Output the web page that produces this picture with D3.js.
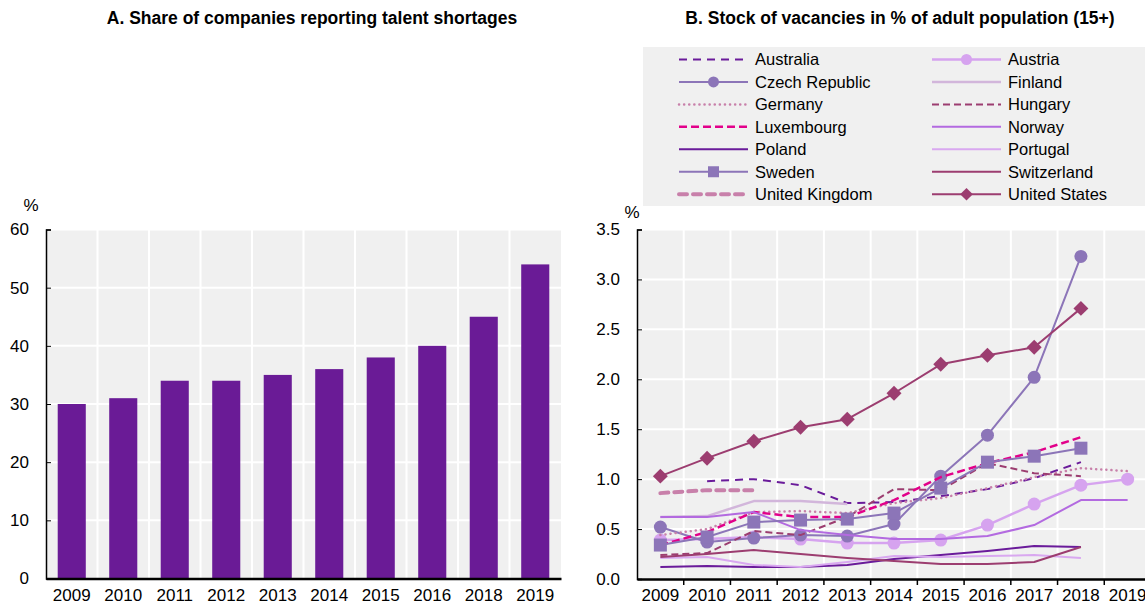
<!DOCTYPE html>
<html>
<head>
<meta charset="utf-8"/>
<title>Talent shortages and vacancies</title>
<script src="https://cdnjs.cloudflare.com/ajax/libs/d3/7.8.5/d3.min.js"></script>
<style>
  body { margin: 0; background: #fff; }
  svg text { font-family: "Liberation Sans", Arial, sans-serif; fill: #000; }
  .title { font-weight: bold; font-size: 17.5px; }
  .tick-label { font-size: 17px; }
  .legend-label { font-size: 16.5px; }
</style>
</head>
<body>
<svg width="1145" height="607"></svg>
<script>
// ---- data, panel A
var barYears = ["2009", "2010", "2011", "2012", "2013", "2014", "2015", "2016", "2018", "2019"];
var barValues = [30, 31, 34, 34, 35, 36, 38, 40, 45, 54];
var barTicks = [0, 10, 20, 30, 40, 50, 60];

// ---- data, panel B (null = no data)
var lineYears = ["2009", "2010", "2011", "2012", "2013", "2014", "2015", "2016", "2017", "2018", "2019"];
var vacTicks = [0, 0.5, 1, 1.5, 2, 2.5, 3, 3.5];

var australia   = [null, 0.98, 1.00, 0.94, 0.76, 0.77, 0.83, 0.90, 1.01, 1.17, null];
var austria     = [0.39, 0.40, 0.42, 0.40, 0.36, 0.36, 0.39, 0.54, 0.75, 0.94, 1.00];
var czech       = [0.52, 0.37, 0.41, 0.44, 0.43, 0.55, 1.03, 1.44, 2.02, 3.23, null];
var finland     = [0.62, 0.63, 0.78, 0.78, 0.75, null, null, null, null, null, null];
var germany     = [0.44, 0.50, 0.67, 0.68, 0.66, 0.76, 0.81, 0.91, 1.02, 1.11, 1.08];
var hungary     = [0.24, 0.26, 0.48, 0.44, 0.62, 0.90, 0.89, 1.16, 1.06, 1.03, null];
var luxembourg  = [0.34, 0.47, 0.67, 0.62, 0.62, 0.79, 1.02, 1.16, 1.27, 1.42, null];
var norway      = [0.62, 0.62, 0.67, 0.49, 0.44, 0.40, 0.40, 0.43, 0.54, 0.79, 0.79];
var poland      = [0.12, 0.13, 0.12, 0.12, 0.14, 0.20, 0.24, 0.28, 0.33, 0.32, null];
var portugal    = [0.21, 0.22, 0.14, 0.12, 0.17, 0.23, 0.22, 0.23, 0.24, 0.21, null];
var sweden      = [0.34, 0.42, 0.57, 0.59, 0.60, 0.66, 0.91, 1.17, 1.23, 1.31, null];
var switzerland = [0.22, 0.25, 0.29, 0.25, 0.21, 0.18, 0.15, 0.15, 0.17, 0.32, null];
var uk          = [0.86, 0.89, 0.89, null, null, null, null, null, null, null, null];
var us          = [1.03, 1.21, 1.38, 1.52, 1.60, 1.86, 2.15, 2.24, 2.32, 2.71, null];

var countryNames = ["Australia", "Austria", "Czech Republic", "Finland", "Germany", "Hungary",
  "Luxembourg", "Norway", "Poland", "Portugal", "Sweden", "Switzerland", "United Kingdom", "United States"];
var countryValues = [australia, austria, czech, finland, germany, hungary,
  luxembourg, norway, poland, portugal, sweden, switzerland, uk, us];

// line styles per country
var styles = {
  "Australia":      { color: "#6a1b9a", width: 2,   dash: "8,6" },
  "Austria":        { color: "#d6a3ef", width: 2.5, marker: "circle" },
  "Czech Republic": { color: "#8c75b8", width: 2,   marker: "circle" },
  "Finland":        { color: "#d2b6db", width: 2.5 },
  "Germany":        { color: "#c880aa", width: 2.5, dash: "0.1,5", cap: "round" },
  "Hungary":        { color: "#9c3d70", width: 2,   dash: "7,4" },
  "Luxembourg":     { color: "#e2008a", width: 2.5, dash: "8,4" },
  "Norway":         { color: "#b36ae0", width: 2 },
  "Poland":         { color: "#6a1b9a", width: 2 },
  "Portugal":       { color: "#d9a8f0", width: 2 },
  "Sweden":         { color: "#8c75b8", width: 2,   marker: "square" },
  "Switzerland":    { color: "#9c3d70", width: 2 },
  "United Kingdom": { color: "#c880aa", width: 4,   dash: "8,6", cap: "round" },
  "United States":  { color: "#9c3d70", width: 2,   marker: "diamond" }
};

var svg = d3.select("svg");
var bg = "#f0f0f0";

// ================= Panel A =================
var xA = d3.scaleBand().domain(barYears).range([46, 561]);
var yA = d3.scaleLinear().domain([0, 60]).range([578.5, 229.5]);

var gA = svg.append("g");
gA.append("rect").attr("x", 46).attr("y", yA(60)).attr("width", 561 - 46).attr("height", yA(0) - yA(60)).attr("fill", bg);

gA.selectAll(".hgrid").data(barTicks.slice(1)).enter().append("line")
  .attr("x1", 46).attr("x2", 561).attr("y1", d => yA(d)).attr("y2", d => yA(d))
  .attr("stroke", "#fff").attr("stroke-width", 2);
gA.selectAll(".vgrid").data(barYears.slice(1)).enter().append("line")
  .attr("x1", d => xA(d)).attr("x2", d => xA(d)).attr("y1", yA(60)).attr("y2", yA(0))
  .attr("stroke", "#fff").attr("stroke-width", 2);

var barW = xA.bandwidth() * 0.545;
gA.selectAll(".bar").data(barYears).enter().append("rect")
  .attr("x", (d) => xA(d) + (xA.bandwidth() - barW) / 2)
  .attr("y", (d, i) => yA(barValues[i]))
  .attr("width", barW)
  .attr("height", (d, i) => yA(0) - yA(barValues[i]))
  .attr("fill", "#6a1b96");

var axA = gA.append("g").attr("transform", "translate(46,0)")
  .call(d3.axisLeft(yA).tickValues(barTicks).tickSize(-5).tickPadding(17));
axA.select(".domain").attr("stroke-width", 1.5);
axA.selectAll("text").attr("class", "tick-label");

var bxA = gA.append("g").attr("transform", "translate(0," + yA(0) + ")")
  .call(d3.axisBottom(xA).tickSize(0).tickPadding(10));
bxA.select(".domain").attr("stroke-width", 2.5);
bxA.selectAll("text").attr("class", "tick-label");

gA.append("text").attr("class", "tick-label").attr("x", 31).attr("y", 211).attr("text-anchor", "middle").text("%");
svg.append("text").attr("class", "title").attr("x", 312).attr("y", 24).attr("text-anchor", "middle")
  .text("A. Share of companies reporting talent shortages");

// ================= Panel B =================
var xB = d3.scaleBand().domain(lineYears).range([637, 1151]);
var yB = d3.scaleLinear().domain([0, 3.5]).range([579, 229.5]);
var right = 1145;

var gB = svg.append("g");
gB.append("rect").attr("x", 637).attr("y", yB(3.5)).attr("width", right - 637).attr("height", yB(0) - yB(3.5)).attr("fill", bg);

gB.selectAll(".hgrid").data(vacTicks.slice(1)).enter().append("line")
  .attr("x1", 637).attr("x2", right).attr("y1", d => yB(d)).attr("y2", d => yB(d))
  .attr("stroke", "#fff").attr("stroke-width", 2);
gB.selectAll(".vgrid").data(lineYears.slice(1)).enter().append("line")
  .attr("x1", d => xB(d)).attr("x2", d => xB(d)).attr("y1", yB(3.5)).attr("y2", yB(0))
  .attr("stroke", "#fff").attr("stroke-width", 2);

var axB = gB.append("g").attr("transform", "translate(637,0)")
  .call(d3.axisLeft(yB).tickValues(vacTicks).tickFormat(d3.format(".1f")).tickSize(-5).tickPadding(17));
axB.select(".domain").attr("stroke-width", 1.5);
axB.selectAll("text").attr("class", "tick-label");

var bxB = gB.append("g").attr("transform", "translate(0," + yB(0) + ")")
  .call(d3.axisBottom(xB).tickSize(0).tickPadding(10));
bxB.select(".domain").attr("stroke-width", 2.5);
bxB.selectAll("text").attr("class", "tick-label");
// small ticks at the band edges
bxB.selectAll(".edge").data(lineYears.slice(1)).enter().append("line")
  .attr("x1", d => xB(d)).attr("x2", d => xB(d)).attr("y1", 0).attr("y2", 6)
  .attr("stroke", "#000").attr("stroke-width", 1.5);

gB.append("text").attr("class", "tick-label").attr("x", 632).attr("y", 218).attr("text-anchor", "middle").text("%");
svg.append("text").attr("class", "title").attr("x", 900).attr("y", 24).attr("text-anchor", "middle")
  .text("B. Stock of vacancies in % of adult population (15+)");

function cx(i) { return xB(lineYears[i]) + xB.bandwidth() / 2; }

var line = d3.line()
  .defined(d => d != null)
  .x((d, i) => cx(i))
  .y(d => yB(d));

function drawMarker(g, type, x, y, color, s) {
  if (type === "circle") {
    g.append("circle").attr("cx", x).attr("cy", y).attr("r", s).attr("fill", color);
  } else if (type === "square") {
    g.append("rect").attr("x", x - s).attr("y", y - s).attr("width", 2 * s).attr("height", 2 * s).attr("fill", color);
  } else if (type === "diamond") {
    var r = s * 1.15;
    g.append("path").attr("d", "M" + x + "," + (y - r) + "L" + (x + r) + "," + y + "L" + x + "," + (y + r) + "L" + (x - r) + "," + y + "Z")
      .attr("fill", color);
  }
}

var series = gB.append("g");
countryNames.forEach(function(name, k) {
  var st = styles[name];
  var vals = countryValues[k];
  var g = series.append("g");
  g.append("path").datum(vals)
    .attr("d", line)
    .attr("fill", "none")
    .attr("stroke", st.color)
    .attr("stroke-width", st.width)
    .attr("stroke-dasharray", st.dash || null)
    .attr("stroke-linecap", st.cap || "butt")
    .attr("stroke-linejoin", "round");
  if (st.marker) {
    vals.forEach(function(v, i) {
      if (v != null) drawMarker(g, st.marker, cx(i), yB(v), st.color, 6.5);
    });
  }
});

// legend
var lg = svg.append("g");
lg.append("rect").attr("x", 643).attr("y", 47).attr("width", right - 643).attr("height", 159).attr("fill", bg);
countryNames.forEach(function(name, k) {
  var st = styles[name];
  var col = k % 2, row = Math.floor(k / 2);
  var x0 = col === 0 ? 679 : 932, x1 = x0 + 69;
  var y = 59.5 + row * 22.45;
  lg.append("line").attr("x1", x0).attr("x2", x1).attr("y1", y).attr("y2", y)
    .attr("stroke", st.color).attr("stroke-width", st.width)
    .attr("stroke-dasharray", st.dash || null)
    .attr("stroke-linecap", st.cap || "butt");
  if (st.marker) drawMarker(lg, st.marker, (x0 + x1) / 2, y, st.color, 5.5);
  lg.append("text").attr("class", "legend-label").attr("x", col === 0 ? 755 : 1008).attr("y", y)
    .attr("dy", "0.35em").text(name);
});
</script>
</body>
</html>
